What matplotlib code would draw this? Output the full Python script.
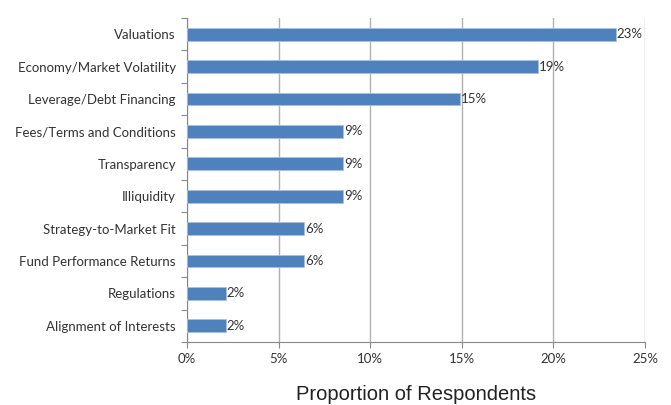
import numpy as np
import matplotlib.pyplot as plt
from matplotlib.ticker import FixedLocator, PercentFormatter

# Survey results: respondents citing each concern (47 respondents)
concerns = ['Valuations', 'Economy/Market Volatility', 'Leverage/Debt Financing',
            'Fees/Terms and Conditions', 'Transparency', 'Illiquidity',
            'Strategy-to-Market Fit', 'Fund Performance Returns', 'Regulations',
            'Alignment of Interests']
counts = [11, 9, 7, 4, 4, 4, 3, 3, 1, 1]
total = 47
xticks = [0, 5, 10, 15, 20, 25]

share = np.array(counts) / total * 100
y = np.arange(len(concerns))

fig = plt.figure(figsize=(6.71, 4.05), dpi=100)
ax = fig.add_axes([187 / 671, 1 - 342 / 405, (645 - 187) / 671, (342 - 18) / 405])

ax.barh(y, share, height=0.39, color='#4F81BD', edgecolor='#A9C1E0', linewidth=0.6, zorder=3)
for yi, v in zip(y, share):
    ax.text(v + 0.05, yi, f'{v:.0f}%', va='center', ha='left', fontsize=9.5,
            color='#333333', family='Lato', zorder=4)

ax.set_ylim(len(concerns) - 0.5, -0.5)
ax.set_xlim(0, 25)
ax.set_yticks(y)
ax.set_yticklabels(concerns, family='Lato', fontsize=9.5, color='#333333')
ax.tick_params(axis='y', which='major', length=0, pad=8)
ax.yaxis.set_minor_locator(FixedLocator(np.arange(-0.5, len(concerns), 1)))
ax.tick_params(axis='y', which='minor', length=4, color='#888888', width=0.8)

ax.set_xticks(xticks)
ax.xaxis.set_major_formatter(PercentFormatter(decimals=0))
ax.tick_params(axis='x', length=4, color='#888888', width=0.8, pad=4, labelsize=9.5,
               labelcolor='#333333')
for lbl in ax.get_xticklabels():
    lbl.set_family('Lato')

ax.grid(axis='x', color='#B0B0B0', linewidth=1.0, zorder=0)
for side in ('top', 'right'):
    ax.spines[side].set_visible(False)
for side in ('left', 'bottom'):
    ax.spines[side].set_color('#888888')
    ax.spines[side].set_linewidth(0.8)

ax.set_xlabel('Proportion of Respondents', family='Liberation Sans', fontsize=14.5,
              color='#222222', labelpad=14)

fig.savefig('out.png', dpi=100)
